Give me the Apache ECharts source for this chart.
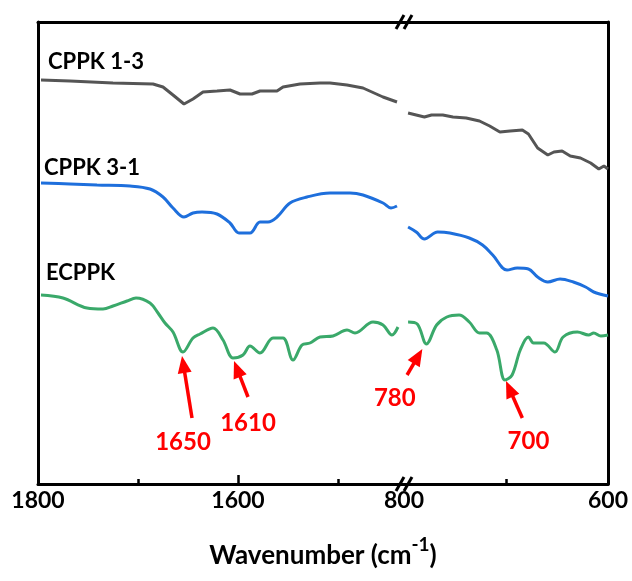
<!DOCTYPE html>
<html>
<head>
<meta charset="utf-8">
<script src="https://cdn.jsdelivr.net/npm/echarts@6/dist/echarts.min.js"></script>
<style>
  html, body { margin: 0; padding: 0; background: #fff; }
  #chart-container { width: 632px; height: 581px; }
</style>
</head>
<body>
<div id="chart-container"></div>
<script>
// wavenumber (cm-1) and relative transmittance
// each spectrum is split in a high (1800-1434) and a low (800-600) range
var grayHiX = [1797,1768,1725,1685,1675,1665,1654,1645,1635,1621,1608,1598,1586,1578,1561,1555,1538,1518,1508,1491,1475,1455,1441];
var grayHiY = [404,403,401,400,397,389,380,385,392,393,394,390,390,393,393,397,400,401,401,399,396,387,382];
var grayLoX = [796,780,773,762,752,739,726,716,706,696,684,678,669,659,653,645,637,627,617,609,604,600];
var grayLoY = [371,367,369,369,367,366,363,358,352,353,354,350,336,329,332,333,328,326,321,315,318,315];

var blueHiX = [1797,1768,1741,1708,1688,1675,1665,1654,1645,1636,1621,1608,1599,1588,1578,1570,1561,1548,1531,1508,1488,1475,1455,1447,1441];
var blueHiY = [301,300,299,298,295,287,276,267,271,272,270,261,251,251,262,262,267,281,287,291,291,289,281,276,278];
var blueLoX = [796,788,780,767,755,736,723,713,699,689,678,669,659,647,634,622,614,600];
var blueLoY = [257,252,245,252,251,246,239,229,214,216,215,207,202,205,202,197,192,188];

var greenHiX = [1797,1775,1751,1735,1725,1711,1702,1688,1680,1673,1665,1655,1645,1638,1625,1615,1605,1595,1588,1578,1565,1555,1545,1536,1528,1518,1505,1491,1483,1465,1455,1446,1440];
var greenHiY = [189,186,176,175,178,183,186,181,171,161,152,132,146,150,156,144,126,129,138,131,146,146,124,139,141,147,148,154,151,162,159,149,157];
var greenLoX = [796,787,778,768,758,746,736,726,719,709,701,694,686,678,673,663,652,644,630,619,614,607,600];
var greenLoY = [162,160,140,159,167,169,162,151,151,134,104,109,134,147,141,141,132,147,152,149,151,148,149];

var seriesNames = ['CPPK 1-3', 'CPPK 3-1', 'ECPPK'];
var seriesColors = ['#555555', '#1e6fdc', '#3aa96a'];

// peak annotations: label, arrow tip, arrow tail, text point, range (0 high, 1 low)
var peakLabels = ['1650', '1610', '780', '700'];
var peakRange = [0, 0, 1, 1];
var peakTip = [[1656,128],[1604,123],[782,135],[700,103]];
var peakTail = [[1646,66],[1590,87],[797,109],[684,66]];
var peakText = [[1655,42],[1590,61],[809,86],[678,43]];

var hiTicks = [1800, 1600];
var hiMinor = [1700, 1500];
var loTicks = [800, 600];
var loMinor = [700];

function pairs(xs, ys) {
  return xs.map(function (x, i) { return [x, ys[i]]; });
}

var dom = document.getElementById('chart-container');
var myChart = echarts.init(dom, null, { renderer: 'canvas' });

var FONT = 'Lato';
var axisLineStyle = { color: '#000', width: 3 };

function xAxisBase(grid, min, max) {
  return {
    type: 'value', gridIndex: grid, min: min, max: max, inverse: true,
    splitLine: { show: false }
  };
}

function plain(v) { return String(v); }

var xAxes = [];
// 0, 1: main bottom axes
var a0 = xAxisBase(0, 1434, 1800);
a0.position = 'bottom';
a0.axisLine = { show: true, lineStyle: axisLineStyle };
a0.axisTick = { show: true, inside: true, length: 9, customValues: hiTicks, lineStyle: { color: '#000', width: 2.5 } };
a0.axisLabel = { show: true, customValues: hiTicks, formatter: plain, color: '#000', fontFamily: FONT, fontWeight: 'bold', fontSize: 23, margin: 5 };
xAxes.push(a0);
var a1 = xAxisBase(1, 600, 800);
a1.position = 'bottom';
a1.axisLine = { show: true, lineStyle: axisLineStyle };
a1.axisTick = { show: false };
a1.axisLabel = { show: true, customValues: loTicks, formatter: plain, color: '#000', fontFamily: FONT, fontWeight: 'bold', fontSize: 23, margin: 5 };
xAxes.push(a1);
// 2, 3: minor ticks
[[0, 1434, 1800, hiMinor], [1, 600, 800, loMinor]].forEach(function (d) {
  var a = xAxisBase(d[0], d[1], d[2]);
  a.position = 'bottom';
  a.axisLine = { show: false };
  a.axisLabel = { show: false };
  a.axisTick = { show: true, inside: true, length: 5, customValues: d[3], lineStyle: { color: '#000', width: 2.5 } };
  xAxes.push(a);
});
// 4, 5: top frame lines
[[0, 1434, 1800], [1, 600, 800]].forEach(function (d) {
  var a = xAxisBase(d[0], d[1], d[2]);
  a.position = 'top';
  a.axisLine = { show: true, lineStyle: axisLineStyle };
  a.axisLabel = { show: false };
  a.axisTick = { show: false };
  xAxes.push(a);
});

var yAxes = [0, 1].map(function (g) {
  return {
    type: 'value', gridIndex: g, min: 0, max: 462,
    position: g === 0 ? 'left' : 'right',
    axisLine: { show: true, lineStyle: axisLineStyle },
    axisTick: { show: false }, axisLabel: { show: false },
    splitLine: { show: false }
  };
});

var spectra = [
  [grayHiX, grayHiY, grayLoX, grayLoY],
  [blueHiX, blueHiY, blueLoX, blueLoY],
  [greenHiX, greenHiY, greenLoX, greenLoY]
];

var series = [];
spectra.forEach(function (s, i) {
  [0, 1].forEach(function (g) {
    series.push({
      name: seriesNames[i],
      type: 'line',
      xAxisIndex: g, yAxisIndex: g,
      data: pairs(s[g * 2], s[g * 2 + 1]),
      showSymbol: false,
      smooth: i === 0 ? false : 0.35,
      lineStyle: { color: seriesColors[i], width: 3 },
      itemStyle: { color: seriesColors[i] },
      z: 3
    });
  });
});

var option = {
  animation: false,
  grid: [
    { left: 38, top: 22, width: 366, bottom: 97 },
    { left: 404, top: 22, right: 24, bottom: 97 }
  ],
  xAxis: xAxes,
  yAxis: yAxes,
  series: series
};

myChart.setOption(option);

// annotations placed through the axes' own scales
function px(g, pt) {
  return myChart.convertToPixel({ xAxisIndex: g, yAxisIndex: g }, pt);
}

var graphics = [];

// series names above each trace
var nameAt = [[1790, 422], [1794, 316], [1792, 211]];
nameAt.forEach(function (p, i) {
  var q = px(0, p);
  graphics.push({
    type: 'text', x: q[0], y: q[1], z: 10,
    style: { text: seriesNames[i], fill: '#000', font: 'bold 22px ' + FONT, align: 'left', verticalAlign: 'middle' }
  });
});

// arrows and peak labels
peakLabels.forEach(function (lab, i) {
  var g = peakRange[i];
  var tip = px(g, peakTip[i]);
  var tail = px(g, peakTail[i]);
  var dx = tip[0] - tail[0], dy = tip[1] - tail[1];
  var len = Math.sqrt(dx * dx + dy * dy);
  var ux = dx / len, uy = dy / len;
  var hl = 17, hw = 7;
  var bx = tip[0] - ux * hl, by = tip[1] - uy * hl;
  graphics.push({
    type: 'line', z: 10,
    shape: { x1: tail[0], y1: tail[1], x2: bx + ux * 2, y2: by + uy * 2 },
    style: { stroke: '#ff0000', lineWidth: 3.5 }
  });
  graphics.push({
    type: 'polygon', z: 10,
    shape: { points: [[tip[0], tip[1]], [bx - uy * hw, by + ux * hw], [bx + uy * hw, by - ux * hw]] },
    style: { fill: '#ff0000' }
  });
  var t = px(g, peakText[i]);
  graphics.push({
    type: 'text', x: t[0], y: t[1], z: 10,
    style: { text: lab, fill: '#ff0000', font: 'bold 24px ' + FONT, align: 'center', verticalAlign: 'middle' }
  });
});

// axis break marks on the top and bottom frame lines
var bTop = px(1, [800, 462]);
var bBot = px(1, [800, 0]);
[bTop, bBot].forEach(function (b) {
  [-4, 4].forEach(function (off) {
    graphics.push({
      type: 'line', z: 12,
      shape: { x1: b[0] + off - 4, y1: b[1] + 7, x2: b[0] + off + 4, y2: b[1] - 7 },
      style: { stroke: '#000', lineWidth: 3 }
    });
  });
});

// x axis title
var mid = (px(0, [1800, 0])[0] + px(1, [600, 0])[0]) / 2;
graphics.push({
  type: 'text', x: mid, y: 552, z: 10,
  style: {
    text: '{a|Wavenumber (cm}{s|-1}{a|)}',
    align: 'center', verticalAlign: 'middle',
    rich: {
      a: { font: 'bold 26px ' + FONT, fill: '#000', verticalAlign: 'bottom', lineHeight: 34 },
      s: { font: 'bold 19px ' + FONT, fill: '#000', verticalAlign: 'top', lineHeight: 34, padding: [0, 0, 16, 0] }
    }
  }
});

myChart.setOption({ graphic: graphics });

window.addEventListener('resize', myChart.resize);
</script>
</body>
</html>
